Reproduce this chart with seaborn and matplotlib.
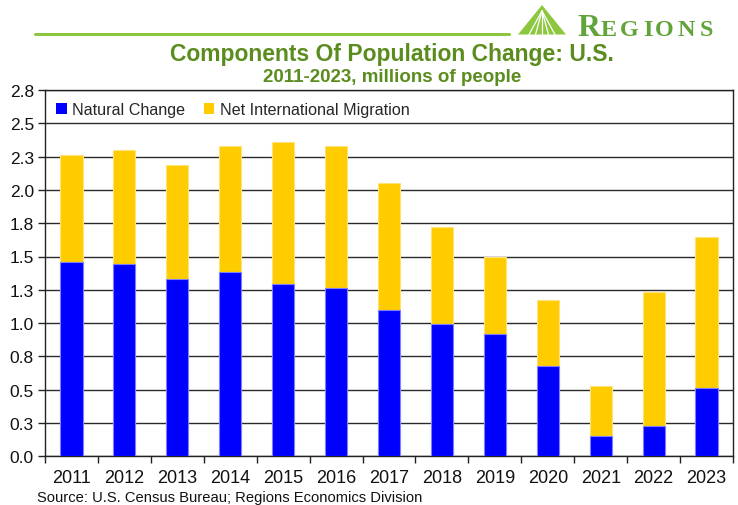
import matplotlib
matplotlib.use("Agg")
import matplotlib.pyplot as plt
import seaborn as sns
import pandas as pd
import numpy as np
from matplotlib.patches import Polygon, Rectangle
from matplotlib.ticker import FixedLocator

years = ["2011", "2012", "2013", "2014", "2015", "2016", "2017",
         "2018", "2019", "2020", "2021", "2022", "2023"]
natural_change = [1.46, 1.44, 1.33, 1.38, 1.29, 1.26, 1.10,
                  0.99, 0.92, 0.68, 0.15, 0.23, 0.51]
net_migration = [0.80, 0.86, 0.86, 0.95, 1.07, 1.07, 0.95,
                 0.73, 0.58, 0.49, 0.38, 1.00, 1.14]
y_ticks = [0.0, 0.25, 0.5, 0.75, 1.0, 1.25, 1.5, 1.75, 2.0, 2.25, 2.5, 2.75]
y_tick_labels = ["0.0", "0.3", "0.5", "0.8", "1.0", "1.3", "1.5", "1.8",
                 "2.0", "2.3", "2.5", "2.8"]

df = pd.DataFrame({"Year": years, "Natural": natural_change,
                   "Migration": net_migration})
df["Total"] = df["Natural"] + df["Migration"]

sns.set_theme(style="white")
plt.rcParams["font.family"] = ["Liberation Sans", "DejaVu Sans"]
narrow = ["Liberation Sans Narrow", "Liberation Sans", "DejaVu Sans"]
serif = ["Liberation Serif", "DejaVu Serif"]

BLUE = "#0000FF"
YELLOW = "#FFCC00"
GREEN = "#5B8C1E"
LOGO_GREEN = "#62A43A"

W, H = 738, 506
fig = plt.figure(figsize=(W / 100, H / 100), dpi=100)
x0, x1, ytop, ybot = 45, 733, 91, 457.3
ax = fig.add_axes([x0 / W, 1 - ybot / H, (x1 - x0) / W, (ybot - ytop) / H])

sns.barplot(data=df, x="Year", y="Total", color=YELLOW, width=0.42,
            edgecolor="#FFE27A", linewidth=0.8, saturation=1, ax=ax,
            label="Net International Migration", zorder=3)
sns.barplot(data=df, x="Year", y="Natural", color=BLUE, width=0.42,
            edgecolor="#7F7FFF", linewidth=0.8, saturation=1, ax=ax,
            label="Natural Change", zorder=3)

ax.set_xlim(-0.5, len(years) - 0.5)
ax.set_ylim(0, 2.75)
ax.set_yticks(y_ticks)
ax.set_yticklabels(y_tick_labels, fontsize=12.5, color="#111111")
ax.set_xlabel("")
ax.set_ylabel("")
ax.yaxis.grid(True, color="#2a2a2a", linewidth=1.0, zorder=0)
ax.set_axisbelow(True)

ax.tick_params(axis="x", which="major", length=0, pad=9)
for lbl in ax.get_xticklabels():
    lbl.set_fontfamily(narrow)
    lbl.set_fontsize(13)
    lbl.set_color("#111111")
ax.xaxis.set_minor_locator(FixedLocator(np.arange(-0.5, len(years), 1.0)))
ax.tick_params(axis="x", which="minor", length=5, width=1, color="#222222",
               direction="out", bottom=True)
ax.tick_params(axis="y", which="major", length=5, width=1, color="#222222",
               direction="out", left=True, pad=3)

for side in ["left", "bottom", "top", "right"]:
    ax.spines[side].set_visible(True)
    ax.spines[side].set_color("#222222")
    ax.spines[side].set_linewidth(1.0)

handles = [Rectangle((0, 0), 1, 1, facecolor=BLUE, edgecolor="none"),
           Rectangle((0, 0), 1, 1, facecolor=YELLOW, edgecolor="none")]
ax.legend(handles, ["Natural Change", "Net International Migration"],
          loc="upper left", bbox_to_anchor=(-0.005, 1.0065), ncol=2, frameon=False,
          fontsize=11.6, handlelength=0.65, handleheight=0.7, handletextpad=0.35,
          columnspacing=1.15, borderaxespad=0.5)

# Titles
fig.text(392 / W, 1 - 55 / H, "Components Of Population Change: U.S.",
         ha="center", va="center", fontsize=16.5, fontweight="bold",
         color=GREEN, family=narrow)
fig.text(392 / W, 1 - 78 / H, "2011-2023, millions of people",
         ha="center", va="center", fontsize=13.5, fontweight="bold",
         color=GREEN, family=narrow)

# Source
fig.text(37 / W, 1 - 498 / H, "Source: U.S. Census Bureau; Regions Economics Division",
         ha="left", va="center", fontsize=10.6, color="#111111", family=narrow)

# Header line and logo
fig.add_artist(plt.Line2D([35 / W, 509 / W], [1 - 35 / H, 1 - 35 / H],
                          color="#8DC63F", linewidth=2.2))
apex = (542 / W, 1 - 6 / H)
bl = (518 / W, 1 - 35.5 / H)
br = (566 / W, 1 - 35.5 / H)
fig.add_artist(Polygon([apex, bl, br], closed=True, facecolor="#8DC63F",
                       edgecolor="none"))
for bx in [529, 535.5, 542, 548.5, 555]:
    fig.add_artist(plt.Line2D([542 / W, bx / W], [1 - 12 / H, 1 - 35.5 / H],
                              color="white", linewidth=0.9))
fig.text(577 / W, 1 - 36 / H, "R", ha="left", va="baseline", fontsize=22.8,
         color=LOGO_GREEN, family=serif, fontweight="bold")
letters = ["E", "G", "I", "O", "N", "S"]
letter_x = [601, 620, 643, 655, 678, 700]
for ch, lx in zip(letters, letter_x):
    fig.text(lx / W, 1 - 36 / H, ch, ha="left", va="baseline", fontsize=17.4,
             color=LOGO_GREEN, family=serif, fontweight="bold")

fig.savefig("out.png", dpi=100)
